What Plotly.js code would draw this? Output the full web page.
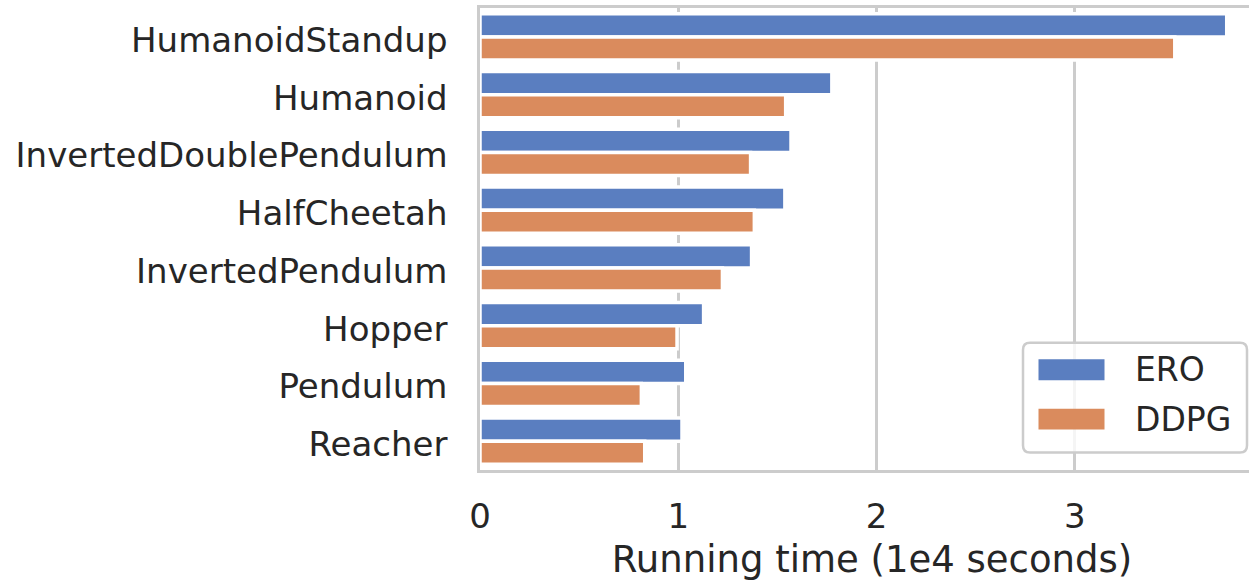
<!DOCTYPE html>
<html>
<head>
<meta charset="utf-8">
<script src="https://cdn.plot.ly/plotly-3.0.1.min.js"></script>
<style>
  html, body { margin: 0; padding: 0; overflow: hidden; background: #ffffff; }
</style>
</head>
<body>
<div id="chart"></div>
<script>
// Environments, top to bottom
const categories = ['HumanoidStandup', 'Humanoid', 'InvertedDoublePendulum', 'HalfCheetah',
                    'InvertedPendulum', 'Hopper', 'Pendulum', 'Reacher'];
// Running time in units of 1e4 seconds
const eroTime  = [3.767, 1.775, 1.569, 1.538, 1.370, 1.128, 1.038, 1.019];
const ddpgTime = [3.505, 1.542, 1.365, 1.384, 1.223, 0.994, 0.814, 0.831];
const seriesNames = ['ERO', 'DDPG'];
const xTicks = [0, 1, 2, 3];
const xLabel = 'Running time (1e4 seconds)';

const FONT = 'DejaVu Sans';
const TEXT = '#262626';
const GRID = '#cccccc';
const COLORS = ['#5a7ec0', '#da8b5d'];

// Figure geometry (px)
const FIG_W = 1267, FIG_H = 581;
const M = { l: 480, r: 3, t: 7.5, b: 110.5 };
const PW = FIG_W - M.l - M.r, PH = FIG_H - M.t - M.b;
const px2x = p => (p - M.l) / PW;
const px2y = p => 1 - (p - M.t) / PH;

const traces = [eroTime, ddpgTime].map((vals, k) => ({
  type: 'bar',
  orientation: 'h',
  name: seriesNames[k],
  x: vals,
  y: categories,
  marker: { color: COLORS[k], line: { color: '#ffffff', width: 3.5 } },
  showlegend: false,
  hovertemplate: '%{y}: %{x}<extra>' + seriesNames[k] + '</extra>'
}));

// Rounded legend frame
function roundedRect(x1, y1, x2, y2, r) {
  const X = px2x, Y = px2y;
  return 'M' + X(x1 + r) + ',' + Y(y1) +
    ' L' + X(x2 - r) + ',' + Y(y1) +
    ' Q' + X(x2) + ',' + Y(y1) + ' ' + X(x2) + ',' + Y(y1 + r) +
    ' L' + X(x2) + ',' + Y(y2 - r) +
    ' Q' + X(x2) + ',' + Y(y2) + ' ' + X(x2 - r) + ',' + Y(y2) +
    ' L' + X(x1 + r) + ',' + Y(y2) +
    ' Q' + X(x1) + ',' + Y(y2) + ' ' + X(x1) + ',' + Y(y2 - r) +
    ' L' + X(x1) + ',' + Y(y1 + r) +
    ' Q' + X(x1) + ',' + Y(y1) + ' ' + X(x1 + r) + ',' + Y(y1) + ' Z';
}

const legendBox = { x1: 1023, y1: 343, x2: 1247, y2: 453 };
const legendRows = [370, 419.5];
const shapes = [{
  type: 'path', xref: 'paper', yref: 'paper', layer: 'above',
  path: roundedRect(legendBox.x1, legendBox.y1, legendBox.x2, legendBox.y2, 7),
  fillcolor: 'rgba(255,255,255,0.8)',
  line: { color: GRID, width: 2.5 }
}];
const annotations = [];
seriesNames.forEach((name, k) => {
  const cy = legendRows[k];
  shapes.push({
    type: 'rect', xref: 'paper', yref: 'paper', layer: 'above',
    x0: px2x(1038.5), x1: px2x(1104.5), y0: px2y(cy - 10.5), y1: px2y(cy + 10.5),
    fillcolor: COLORS[k], line: { width: 0 }
  });
  annotations.push({
    xref: 'paper', yref: 'paper', x: px2x(1133), y: px2y(cy),
    xanchor: 'left', yanchor: 'middle', showarrow: false,
    text: name, font: { family: FONT, size: 33, color: TEXT }
  });
});

const layout = {
  width: FIG_W, height: FIG_H,
  margin: M,
  paper_bgcolor: '#ffffff', plot_bgcolor: '#ffffff',
  font: { family: FONT, color: TEXT },
  barmode: 'group', bargap: 0.2, bargroupgap: 0,
  showlegend: false,
  xaxis: {
    range: [0, 3.955],
    tickvals: xTicks, ticktext: xTicks.map(String),
    tickfont: { family: FONT, size: 34, color: TEXT },
    ticklabelstandoff: 14,
    showgrid: true, gridcolor: GRID, gridwidth: 2.7,
    zeroline: false,
    showline: true, linecolor: GRID, linewidth: 2.7, mirror: true,
    ticks: '',
    title: { text: xLabel, font: { family: FONT, size: 37, color: TEXT }, standoff: 18 },
    automargin: false, fixedrange: true
  },
  yaxis: {
    type: 'category',
    categoryorder: 'array', categoryarray: categories,
    autorange: 'reversed',
    tickfont: { family: FONT, size: 34, color: TEXT },
    ticklabelstandoff: 23,
    ticklabelshift: -3,
    showgrid: false, zeroline: false,
    showline: true, linecolor: GRID, linewidth: 2.7, mirror: true,
    ticks: '',
    automargin: false, fixedrange: true
  },
  shapes: shapes,
  annotations: annotations
};

Plotly.newPlot('chart', traces, layout, { displayModeBar: false, staticPlot: true });
</script>
</body>
</html>
